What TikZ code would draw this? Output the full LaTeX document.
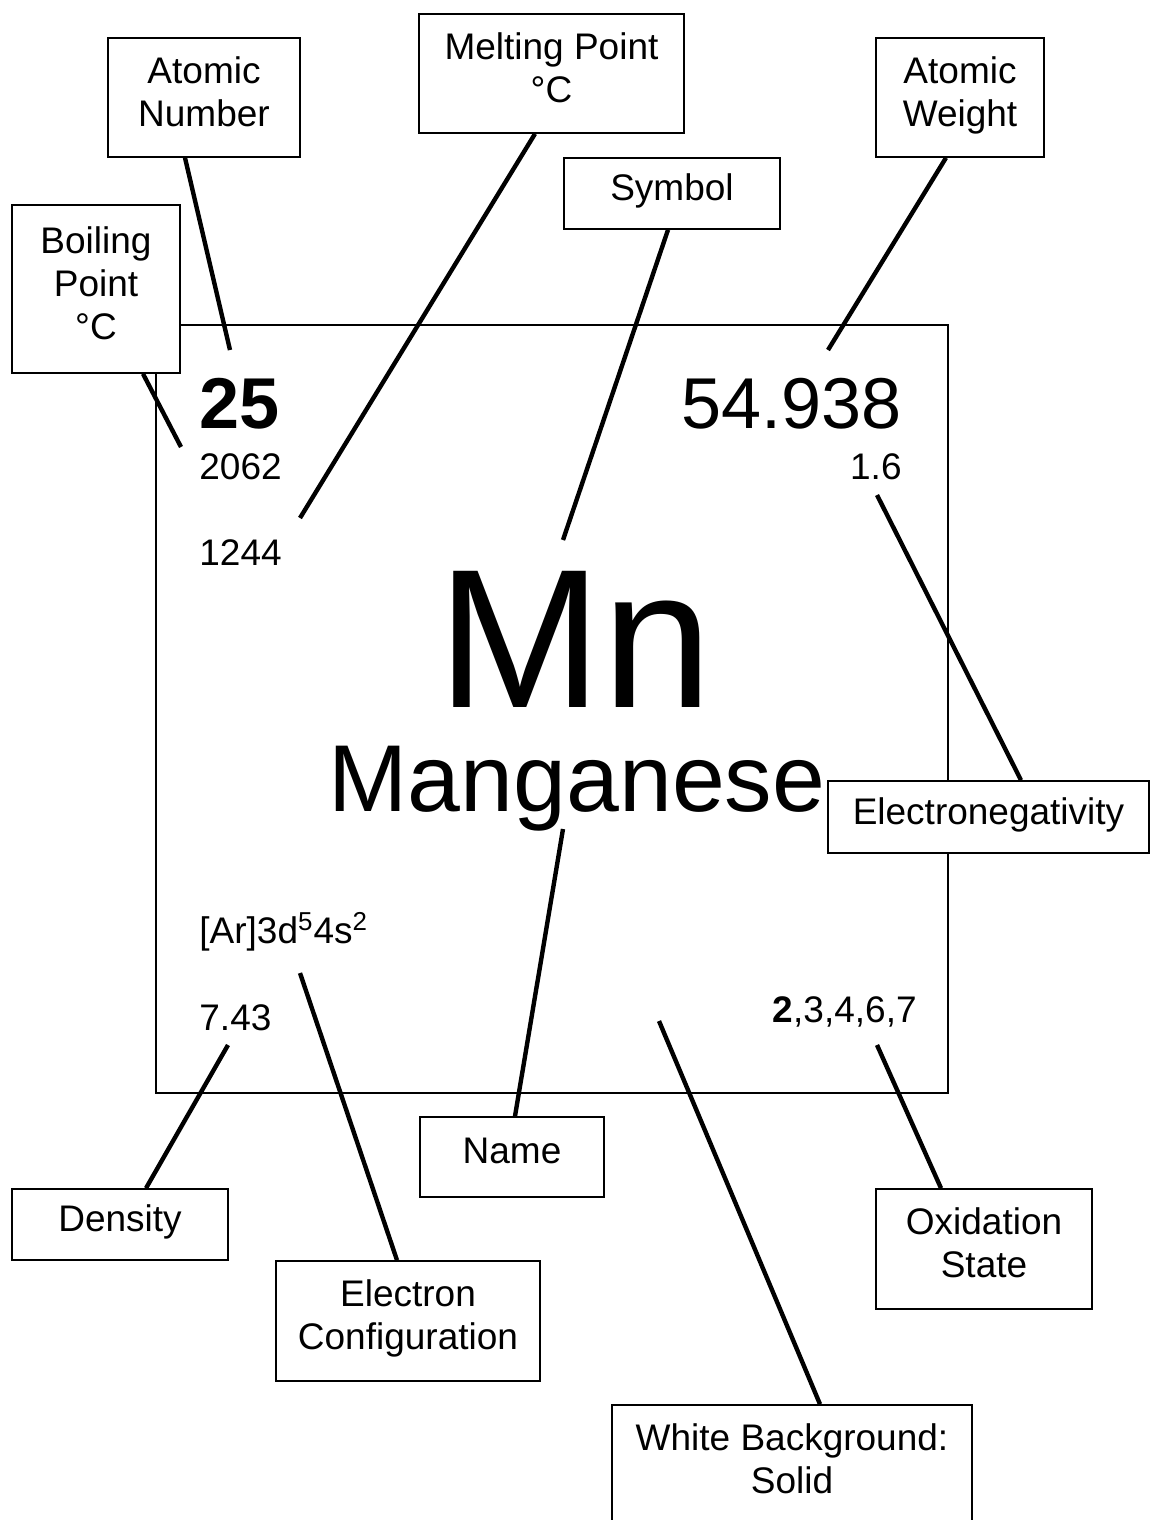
\documentclass[tikz,border=0pt]{standalone}
\usepackage{fontspec}
\setmainfont{Liberation Sans}
\usetikzlibrary{positioning}

\tikzset{
	tagbox/.style={draw, fill=white, line width=0.8pt, inner sep=0pt, align=center,
		text depth=6pt, font=\fontsize{18.5}{21.5}\selectfont},
	pointer/.style={line width=2.2pt},
	smallnum/.style={inner sep=0pt, font=\fontsize{18.5}{21.5}\selectfont},
	bignum/.style={inner sep=0pt, font=\fontsize{36}{40}\selectfont},
}

\begin{document}
\begin{tikzpicture}[x=0.5pt,y=-0.5pt]
				\useasboundingbox (0,0) rectangle (1151,1520);
				% the element cell
				\node [draw, line width=0.8pt, inner sep=0pt, minimum width=396pt, minimum height=384pt] (cell) at (552,709) {};
				\node [bignum, anchor=base west, font=\fontsize{36}{40}\selectfont\bfseries] (anum) at (199,428) {25};
				\node [bignum, anchor=base east] (awt) at (902,428) {54.938};
				\node [smallnum, anchor=base west] (bp) at (199,479) {2062};
				\node [smallnum, anchor=base east] (eneg) at (902,479) {1.6};
				\node [smallnum, anchor=base west] (mp) at (199,565) {1244};
				\node [inner sep=0pt, anchor=base, font=\fontsize{99}{100}\selectfont] (sym) at (575,707) {Mn};
				\node [inner sep=0pt, anchor=base, font=\fontsize{47.5}{50}\selectfont] (ename) at (577,811) {Manganese};
				\node [smallnum, anchor=base west] (conf) at (199,943) {[Ar]3d\textsuperscript{5}4s\textsuperscript{2}};
				\node [smallnum, anchor=base west] (dens) at (199,1030) {7.43};
				\node [smallnum, anchor=base east] (ox) at (917,1022) {\textbf{2},3,4,6,7};

				% tips of the pointers
				\coordinate (anum tip) at (230,350);
				\coordinate (mp tip) at (300,518);
				\coordinate (sym tip) at (563,540);
				\coordinate (awt tip) at (828,350);
				\coordinate (bp tip) at (181,447);
				\coordinate (eneg tip) at (877,495);
				\coordinate (name tip) at (563,829);
				\coordinate (conf tip) at (300,973);
				\coordinate (bg tip) at (659,1021);
				\coordinate (dens tip) at (228,1045);
				\coordinate (ox tip) at (877,1045);

				% label boxes
				\node [tagbox, minimum width=96pt, minimum height=59.5pt] (anumbox) at (204,97.5) {Atomic\\Number};
				\node [tagbox, minimum width=132.5pt, minimum height=59.5pt] (mpbox) at (551.5,73.5) {Melting Point\\°C};
				\node [tagbox, minimum width=84pt, minimum height=59.5pt] (awtbox) at (960,97.5) {Atomic\\Weight};
				\node [tagbox, minimum width=108pt, minimum height=35.5pt] (symbox) at (672,193.5) {Symbol};
				\node [tagbox, minimum width=84pt, minimum height=84pt] (bpbox) at (96,289) {Boiling\\Point\\°C};
				\node [tagbox, minimum width=160.5pt, minimum height=36pt] (enegbox) at (988.5,817) {Electronegativity};
				\node [tagbox, minimum width=92pt, minimum height=40pt] (namebox) at (512,1157) {Name};
				\node [tagbox, minimum width=108pt, minimum height=35.5pt] (densbox) at (120,1224.5) {Density};
				\node [tagbox, minimum width=108pt, minimum height=60pt] (oxbox) at (984,1249) {Oxidation\\State};
				\node [tagbox, minimum width=132pt, minimum height=60pt] (confbox) at (408,1321) {Electron\\Configuration};
				\node [tagbox, minimum width=180pt, minimum height=60pt] (bgbox) at (792,1465) {White Background:\\Solid};

				% pointers
				\draw [pointer] ([xshift=-9.5pt]anumbox.south) -- (anum tip);
				\draw [pointer] ([xshift=-8.25pt]mpbox.south) -- (mp tip);
				\draw [pointer] ([xshift=-2pt]symbox.south) -- (sym tip);
				\draw [pointer] ([xshift=-7pt]awtbox.south) -- (awt tip);
				\draw [pointer] ([xshift=23.5pt]bpbox.south) -- (bp tip);
				\draw [pointer] ([xshift=16.25pt]enegbox.north) -- (eneg tip);
				\draw [pointer] ([xshift=1.5pt]namebox.north) -- (name tip);
				\draw [pointer] ([xshift=-5.5pt]confbox.north) -- (conf tip);
				\draw [pointer] ([xshift=14pt]bgbox.north) -- (bg tip);
				\draw [pointer] ([xshift=13pt]densbox.north) -- (dens tip);
				\draw [pointer] ([xshift=-21.5pt]oxbox.north) -- (ox tip);
\end{tikzpicture}
\end{document}
